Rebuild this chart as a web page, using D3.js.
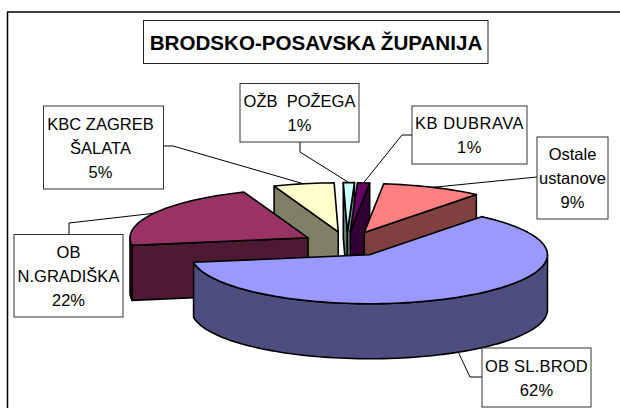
<!DOCTYPE html>
<html><head><meta charset="utf-8">
<script src="https://cdn.jsdelivr.net/npm/d3@7/dist/d3.min.js"></script>
<style>html,body{margin:0;padding:0;background:#fff}svg{display:block}text{font-family:"Liberation Sans",Arial,sans-serif;fill:#000;white-space:pre}</style>
</head><body><svg id="c" width="620" height="408"></svg>
<script>
const titleText = "BRODSKO-POSAVSKA ŽUPANIJA";
const categories = ["OB SL.BROD","OB N.GRADIŠKA","KBC ZAGREB - ŠALATA","OŽB POŽEGA","KB DUBRAVA","Ostale ustanove"];
const values = [61.7,21.6,5.5,1.0,1.1,9.1];
const labelLines = [["OB SL.BROD","62%"],["OB","N.GRADIŠKA","22%"],["KBC ZAGREB","ŠALATA","5%"],["OŽB  POŽEGA","1%"],["KB DUBRAVA","1%"],["Ostale","ustanove","9%"]];
const topColors = ["#9999FF","#993366","#FFFFCC","#CCFFFF","#660066","#FF8080"];
const sideColors = ["#4D4D80","#4D1933","#808066","#668080","#330033","#804040"];
// layout
const paintOrder = [2,3,4,5,1,0];
const boxes = [[482,348,109,59],[14,234.5,109,82.5],[43.5,106,120,83],[240,83.5,119,58.5],[412,106,115,58],[537,137,71,82]];
const labelShift = [0,0,-3,0,0,0];
const labelSpacing = [0.2,0,0,0,0.5,0];
const leaderElbows = [[[482,377],[470,377]],[[69,234],[69,223]],[[163,146],[173,146]],[[300,142],[300,152]],[[412,135],[402,135]],[[537,177]]];
const deg = Math.PI/180;
const cx=347, cy=244, rx=178, ry=49, depth=55, explode=45;
const x = d3.scaleLinear().domain([-1,1]).range([cx-rx,cx+rx]);
const y = d3.scaleLinear().domain([-1,1]).range([cy-ry,cy+ry]);
const svg = d3.select("#c");
svg.append("rect").attr("x",7.5).attr("y",12).attr("width",640).attr("height",420).attr("fill","#fff").attr("stroke","#000").attr("stroke-width",1.5);
const arcs = d3.pie().sort(null).startAngle(39*deg).endAngle(399*deg)(values);
const ex = explode/rx;
const line = d3.line().curve(d3.curveLinear);
function apex(a){const m=(a.startAngle+a.endAngle)/2; return [ex*Math.sin(m),-ex*Math.cos(m)];}
function pt(a,t,dz=0){const c=apex(a); return [x(c[0]+Math.sin(t)),y(c[1]-Math.cos(t))+dz];}
function arcPts(a,t0,t1,dz=0){const n=Math.max(2,Math.ceil((t1-t0)/(2*deg))); return d3.range(n+1).map(i=>pt(a,t0+(t1-t0)*i/n,dz));}
function center(a,dz=0){const c=apex(a); return [x(c[0]),y(c[1])+dz];}
const g = svg.append("g").attr("stroke","#000").attr("stroke-width",1.6).attr("stroke-linejoin","round");
paintOrder.forEach(i=>{
  const a=arcs[i], s=a.startAngle, e=a.endAngle;
  const face=(p,q,col)=>{ g.append("path").attr("d",line([p,q,[q[0],q[1]+depth],[p[0],p[1]+depth]])+"Z").attr("fill",col); };
  if(Math.sin(s)<0) face(pt(a,s),center(a),sideColors[i]);
  if(Math.sin(e)>0) face(center(a),pt(a,e),sideColors[i]);
  const w0=Math.max(s,90*deg), w1=Math.min(e,270*deg);
  if(w1>w0){
    const pts=arcPts(a,w0,w1).concat(arcPts(a,w0,w1,depth).reverse());
    g.append("path").attr("d",line(pts)+"Z").attr("fill",sideColors[i]);
  }
  g.append("path").attr("d",line([center(a),...arcPts(a,s,e)])+"Z").attr("fill",topColors[i]);
});
// leaders
const lg = svg.append("g").attr("fill","none").attr("stroke","#000").attr("stroke-width",1);
arcs.forEach((a,i)=>{
  const m=(a.startAngle+a.endAngle)/2;
  const end=pt(a,m,i===0?depth:0);
  lg.append("path").attr("d",line([...leaderElbows[i],end]));
});
lg.append("path").attr("d",line([[161,123],[164,123]]));
// boxes
const lh=24;
function box(b,col){svg.append("rect").attr("x",b[0]).attr("y",b[1]).attr("width",b[2]).attr("height",b[3]).attr("fill","#fff").attr("stroke",col).attr("stroke-width",1);}
box([143.5,20.5,344.5,43],"#222");
svg.append("text").attr("x",316).attr("y",49.5).attr("text-anchor","middle").attr("font-size",20.6).attr("font-weight","bold").text(titleText);
labelLines.forEach((ls,i)=>{
  const b=boxes[i];
  box(b,"#333");
  const mx=b[0]+b[2]/2+labelShift[i], my=b[1]+b[3]/2;
  ls.forEach((t,j)=>{
    svg.append("text").attr("x",mx).attr("y",my+(j-(ls.length-1)/2)*lh+6).attr("text-anchor","middle").attr("font-size",16.5).style("letter-spacing",labelSpacing[i]+"px").text(t);
  });
});
</script></body></html>
